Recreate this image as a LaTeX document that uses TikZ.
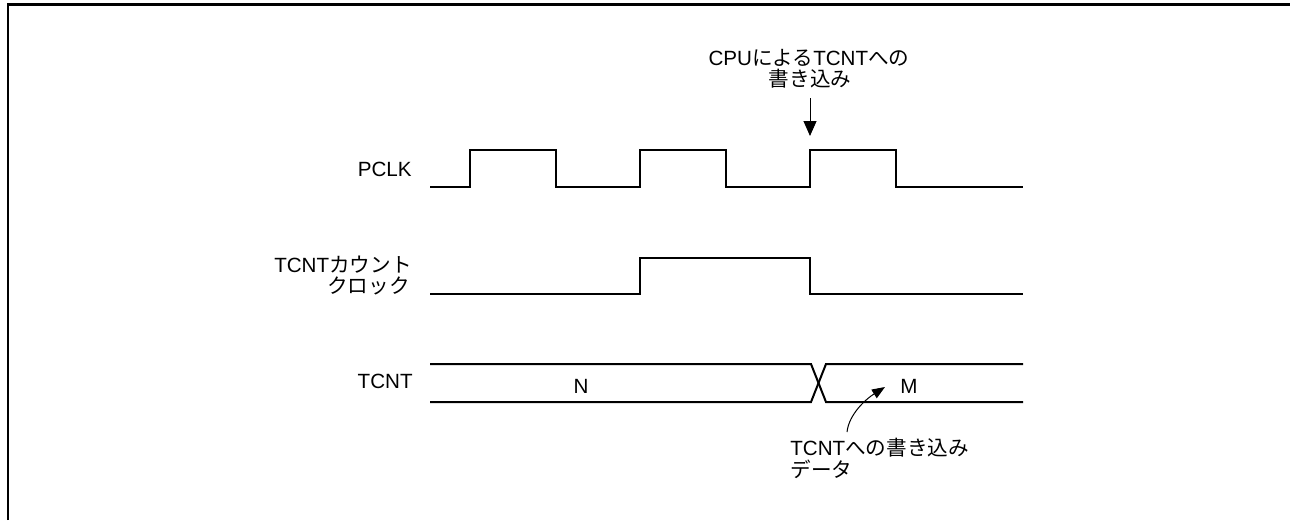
\documentclass[tikz,border=0pt]{standalone}
\usepackage{fontspec}
\setmainfont{Liberation Sans}
\newfontfamily\cjk{Noto Sans CJK JP}
\usetikzlibrary{arrows.meta}
\begin{document}
\begin{tikzpicture}[x=0.5pt,y=-0.5pt,
  wave/.style={line width=1pt,line join=miter},
  lbl/.style={inner sep=0pt,font=\fontsize{10.3}{11}\selectfont},
  pointer/.style={line width=0.5pt,-{Triangle[length=7.5pt,width=6.5pt]}},
  cpointer/.style={line width=0.5pt,-{Triangle[length=6.5pt,width=5pt]}},
  frame/.style={line width=1.3pt}]
\useasboundingbox (0,0) rectangle (1290,520);
% frame
\draw[frame] (8,520) -- (8,4.5) -- (1290,4.5);
% signal labels
\node[lbl,anchor=base east] (pclk) at (412,176) {PCLK};
\node[lbl,anchor=base east] (cclk1) at (412,272) {TCNT{\cjk カウント}};
\node[lbl,anchor=base east] (cclk2) at (410,293) {{\cjk クロック}};
\node[lbl,anchor=base east] (tcnt) at (413,388) {TCNT};
% PCLK
\draw[wave] (430,187) -- (470,187) -- (470,150) -- (556,150) -- (556,187) -- (640,187) -- (640,150) -- (726,150) -- (726,187) -- (810,187) -- (810,150) -- (896,150) -- (896,187) -- (1023,187);
% TCNT count clock
\draw[wave] (430,294) -- (640,294) -- (640,258) -- (810,258) -- (810,294) -- (1023,294);
% TCNT bus
\draw[wave] (430,364) -- (811,364) -- (826,402) -- (1023,402);
\draw[wave] (430,402) -- (811,402) -- (826,364) -- (1023,364);
\node[lbl,anchor=base] (valn) at (581,393) {N};
\node[lbl,anchor=base] (valm) at (909,393) {M};
% CPU write annotation
\node[lbl,anchor=base] (cpu1) at (809,65) {CPU{\cjk による}TCNT{\cjk への}};
\node[lbl,anchor=base] (cpu2) at (810,86) {{\cjk 書き込み}};
\coordinate (cputip) at (810,136);
\draw[pointer] (cpu2.south |- 0,98) -- (cputip);
% write data annotation
\node[lbl,anchor=base west] (wd1) at (790,455) {TCNT{\cjk への書き込み}};
\node[lbl,anchor=base west] (wd2) at (790,477) {{\cjk データ}};
\coordinate (wdstart) at (847,432);
\coordinate (wdtip) at (885,387);
\draw[cpointer] (wdstart) .. controls (849,414) and (866,399) .. (wdtip);
\end{tikzpicture}
\end{document}
